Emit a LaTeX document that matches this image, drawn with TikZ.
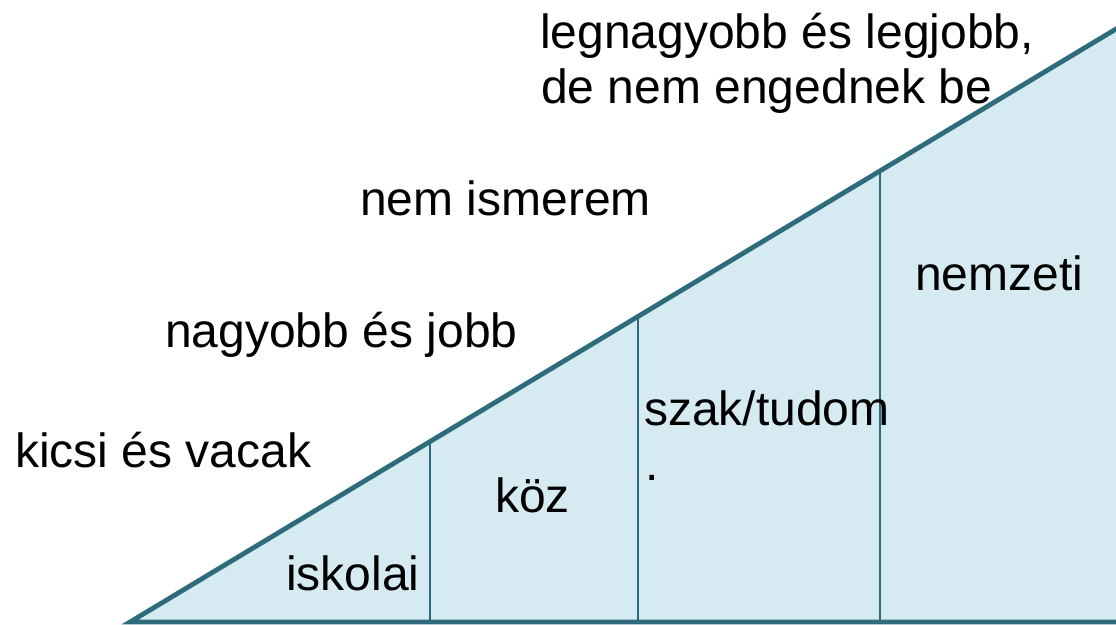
\documentclass[tikz,border=0pt]{standalone}
\usepackage{fontspec}
\setmainfont{Liberation Sans}
\definecolor{rim}{RGB}{46,108,124}
\definecolor{wedge}{RGB}{213,234,241}
\tikzset{
  lbl/.style={anchor=base west,inner sep=0pt,font=\fontsize{48}{55}\selectfont},
  divider/.style={rim,line width=2pt},
  rimline/.style={rim,line width=4.8pt,line join=miter}
}
\begin{document}
\begin{tikzpicture}[x=1pt,y=-1pt]
\useasboundingbox (0,0) rectangle (1116,624);
\coordinate (tip) at (130,622);
\coordinate (apex) at (1116,29);
\coordinate (foot) at (1116,622);
\fill[wedge] (tip) -- (apex) -- (foot) -- cycle;
\foreach \x/\y in {430/441.6,638/316.5,880/171}
\draw[divider] (\x,\y) -- (\x,622);
\draw[rimline] (1180,-9.5) -- (tip) -- (1180,622);
\node[lbl] (big1) at (540,48) {legnagyobb és legjobb,};
\node[lbl] (big2) at (541,103) {de nem engednek be};
\node[lbl] (unknown) at (360,215) {nem ismerem};
\node[lbl] (bigger) at (165,347) {nagyobb és jobb};
\node[lbl] (small) at (15,467) {kicsi és vacak};
\node[lbl] (school) at (286,590) {iskolai};
\node[lbl] (mid) at (495,512) {köz};
\node[lbl] (spec1) at (644,425) {szak/tudom};
\node[lbl] (spec2) at (645,480) {.};
\node[lbl] (nat) at (915,290) {nemzeti};
\end{tikzpicture}
\end{document}
